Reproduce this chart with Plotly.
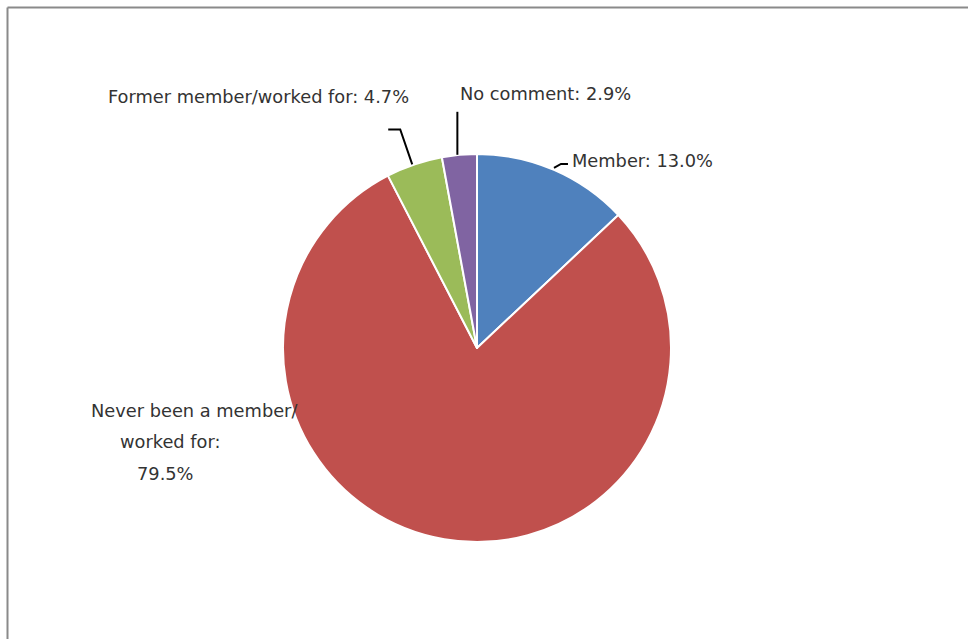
import numpy as np
import plotly.graph_objects as go

# Survey answers: membership status
categories = ["Member", "Never been a member/worked for", "Former member/worked for", "No comment"]
shares = [13.0, 79.5, 4.7, 2.9]
label_texts = [
    ["Member: 13.0%"],
    ["Never been a member/", "worked for:", "79.5%"],
    ["Former member/worked for: 4.7%"],
    ["No comment: 2.9%"],
]
colors = ["#4F81BD", "#C0504D", "#9BBB59", "#8064A2"]

W, H = 968, 639
CX, CY, R = 477, 348, 194  # pie centre and radius in pixels


def px(x):
    return x / W


def py(y):
    return 1 - y / H


fig = go.Figure(
    go.Pie(
        labels=categories,
        values=shares,
        sort=False,
        direction="clockwise",
        rotation=0,
        textinfo="none",
        hoverinfo="label+percent",
        marker=dict(colors=colors, line=dict(color="white", width=2)),
        domain=dict(x=[px(CX - R), px(CX + R)], y=[py(CY + R), py(CY - R)]),
        showlegend=False,
    )
)

# slice mid-angles (clockwise from 12 o'clock) for leader-line anchors
vals = np.array(shares)
frac = vals / vals.sum()
mid = (np.cumsum(frac) - frac / 2) * 2 * np.pi
anchor = [(CX + R * np.sin(a), CY - R * np.cos(a)) for a in mid]

font = dict(family="DejaVu Sans", size=17.8, color="#333333")

shapes = []
# chart frame
shapes.append(dict(type="line", xref="paper", yref="paper", x0=px(7.5), x1=1, y0=py(7.5), y1=py(7.5),
                   line=dict(color="#8a8a8a", width=2)))
shapes.append(dict(type="line", xref="paper", yref="paper", x0=px(7.5), x1=px(7.5), y0=py(7.5), y1=0,
                   line=dict(color="#8a8a8a", width=2)))


def leader(points):
    path = "M " + " L ".join(f"{px(x)},{py(y)}" for x, y in points)
    shapes.append(dict(type="path", xref="paper", yref="paper", path=path,
                       line=dict(color="black", width=2)))


# Member
ax, ay = anchor[0]
leader([(ax, ay - 2), (ax + 7, ay - 6), (ax + 14, ay - 6)])
# Former member
ax, ay = anchor[2]
leader([(ax - 2, ay), (ax - 14, ay - 35), (ax - 26, ay - 35)])
# No comment
ax, ay = anchor[3]
leader([(ax - 2, ay), (ax - 2, ay - 43)])

# (slice index, line index, left x, centre y) for each text line
placements = [
    (0, 0, 570, 160),
    (1, 0, 89, 410),
    (1, 1, 118, 441),
    (1, 2, 135, 473),
    (2, 0, 106, 97),
    (3, 0, 458, 93),
]
annotations = [
    dict(text=label_texts[i][j], x=px(x), y=py(y), xanchor="left", yanchor="middle",
         xref="paper", yref="paper", showarrow=False, font=font)
    for i, j, x, y in placements
]

fig.update_layout(
    width=W,
    height=H,
    margin=dict(l=0, r=0, t=0, b=0),
    paper_bgcolor="white",
    plot_bgcolor="white",
    shapes=shapes,
    annotations=annotations,
)

fig.write_html("out.html")
